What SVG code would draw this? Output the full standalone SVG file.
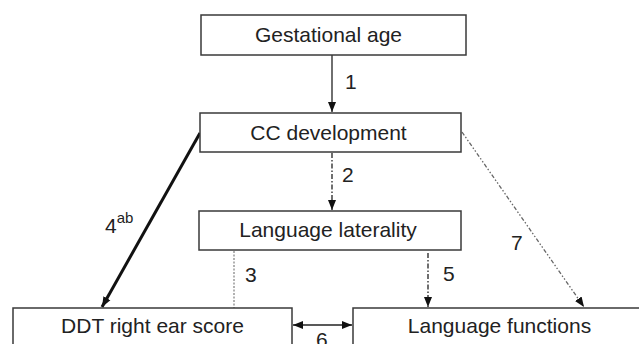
<svg xmlns="http://www.w3.org/2000/svg" width="639" height="344" viewBox="0 0 639 344">
<style>
.box{fill:#fff;stroke:#3a3a3a;stroke-width:1.5}
.t{font-family:"Liberation Sans",Arial,sans-serif;font-size:21px;fill:#222}
.c{stroke:#222;fill:none;stroke-width:1.3}
</style>
<defs>
<marker id="ah" markerUnits="userSpaceOnUse" markerWidth="10" markerHeight="10" viewBox="0 0 10 10" refX="10" refY="5" orient="auto">
<path d="M0,1 L10,5 L0,9 Z" fill="#111"/>
</marker>
<marker id="as" markerUnits="userSpaceOnUse" markerWidth="10" markerHeight="10" viewBox="0 0 10 10" refX="0" refY="5" orient="auto">
<path d="M10,1 L0,5 L10,9 Z" fill="#111"/>
</marker>
</defs>
<rect width="639" height="344" fill="#fff"/>
<g id="connectors">
<line class="c" x1="332" y1="55" x2="332" y2="112" marker-end="url(#ah)"/>
<line class="c" x1="332" y1="153" x2="332" y2="210" stroke-dasharray="5 2 1.5 2" marker-end="url(#ah)"/>
<line x1="234" y1="251" x2="234" y2="308" stroke="#888" stroke-width="1.3" stroke-dasharray="2 1.5"/>
<line class="c" x1="428" y1="253" x2="428" y2="307" stroke-dasharray="5 2 1.5 2" marker-end="url(#ah)"/>
<line x1="462" y1="132" x2="584" y2="307" stroke="#666" stroke-width="1.3" stroke-dasharray="4 2 1.5 2 1.5 2" marker-end="url(#ah)"/>
<line x1="200" y1="133" x2="102" y2="307" stroke="#111" stroke-width="3" marker-end="url(#ah)"/>
<line class="c" x1="293" y1="325" x2="352" y2="325" marker-start="url(#as)" marker-end="url(#ah)"/>
<text class="t" x="345" y="89">1</text>
<text class="t" x="342" y="182">2</text>
<text class="t" x="245" y="282">3</text>
<text class="t" x="443" y="281">5</text>
<text class="t" x="511" y="250">7</text>
<text class="t" x="105" y="233">4<tspan font-size="15" dy="-10">ab</tspan></text>
<text class="t" x="316" y="347">6</text>
</g>
<g id="gestational-age">
<rect class="box" x="201" y="15" width="265" height="40"/>
<text class="t" x="328.5" y="42" text-anchor="middle">Gestational age</text>
</g>
<g id="cc-development">
<rect class="box" x="200" y="113" width="261" height="39"/>
<text class="t" x="328.5" y="140" text-anchor="middle">CC development</text>
</g>
<g id="language-laterality">
<rect class="box" x="199" y="211" width="262" height="39"/>
<text class="t" x="328" y="237" text-anchor="middle">Language laterality</text>
</g>
<g id="ddt-right-ear-score">
<rect class="box" x="13" y="308" width="279" height="50"/>
<text class="t" x="152.5" y="333" text-anchor="middle">DDT right ear score</text>
</g>
<g id="language-functions">
<rect class="box" x="353" y="308" width="300" height="50"/>
<text class="t" x="499.5" y="333" text-anchor="middle">Language functions</text>
</g>
</svg>
